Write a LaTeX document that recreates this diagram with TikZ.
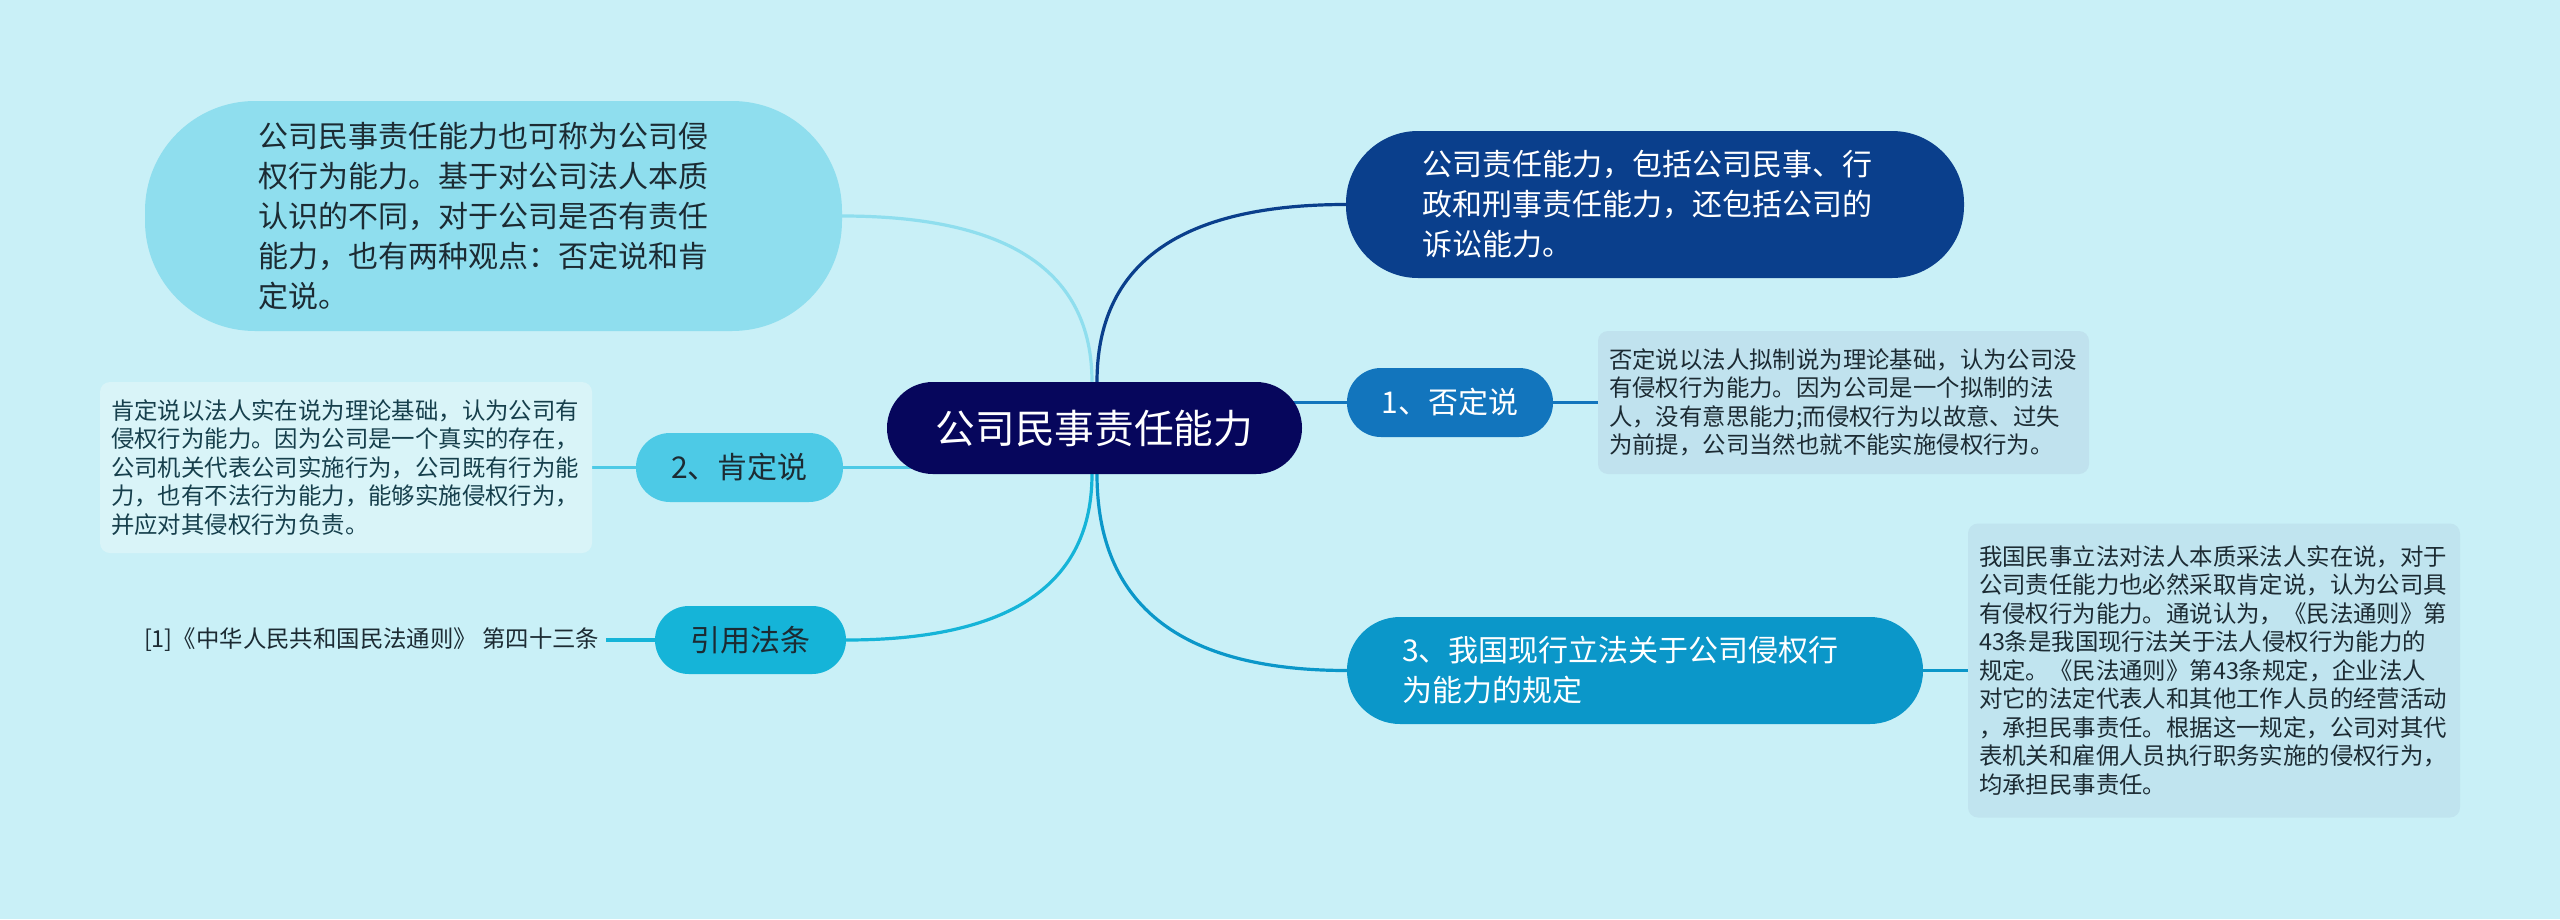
\documentclass[tikz,border=0pt]{standalone}
\usepackage{fontspec}
\newfontfamily\cjk{Noto Sans CJK SC}
\usetikzlibrary{calc}
\pgfdeclarelayer{bglayer}
\pgfdeclarelayer{linelayer}
\pgfsetlayers{bglayer,linelayer,main}
\definecolor{bgc}{HTML}{C9F0F7}
\definecolor{cnode}{HTML}{06065C}
\definecolor{tlc}{HTML}{8FDEEE}
\definecolor{trc}{HTML}{0A3F8C}
\definecolor{n1c}{HTML}{1275BD}
\definecolor{n3c}{HTML}{0B97C9}
\definecolor{n2c}{HTML}{4DCAE6}
\definecolor{n4c}{HTML}{15B4D8}
\definecolor{d1c}{HTML}{C0E2EE}
\definecolor{d3c}{HTML}{C0E4EF}
\definecolor{d2c}{HTML}{D9F4F8}
\definecolor{darktxt}{HTML}{1C2B33}
\definecolor{tealtxt}{HTML}{163F4C}
\begin{document}
\begin{tikzpicture}[x=1pt,y=-1pt,
  every node/.style={inner sep=0pt, outer sep=0pt},
  bigtxt/.style={font=\cjk\fontsize{30}{40}\selectfont},
  smalltxt/.style={font=\cjk\fontsize{23.4}{28.5}\selectfont},
  detailbox/.style={smalltxt, rounded corners=10pt, align=left},
  pillbox/.style={bigtxt, align=left},
  conn/.style={line width=3.2pt}
]
\begin{pgfonlayer}{bglayer}
\fill[bgc] (0,0) rectangle (2560,919);
\end{pgfonlayer}
\useasboundingbox (0,0) rectangle (2560,919);

% central node
\node[fill=cnode, text=white, minimum width=415pt, minimum height=92pt,
  rounded corners=45.9pt, font=\cjk\fontsize{39.7}{46}\selectfont] (c) at (1094.5,428) {公司民事责任能力};

% top-left bubble
\node[pillbox, fill=tlc, text=darktxt, minimum width=697pt, minimum height=230pt,
  text width=471pt, rounded corners=110pt] (tl) at (493.5,216)
  {公司民事责任能力也可称为公司侵\\权行为能力。基于对公司法人本质\\认识的不同，对于公司是否有责任\\能力，也有两种观点：否定说和肯\\定说。};

% top-right
\node[pillbox, fill=trc, text=white, minimum width=618pt, minimum height=147pt,
  text width=466pt, rounded corners=72pt] (tr) at (1655,204.5)
  {公司责任能力，包括公司民事、行\\政和刑事责任能力，还包括公司的\\诉讼能力。};

% 1
\node[bigtxt, fill=n1c, text=white, minimum width=206pt, minimum height=69pt,
  rounded corners=34pt] (n1) at (1450,402.5) {1、否定说};
\node[detailbox, fill=d1c, text=darktxt, minimum width=491pt, minimum height=143pt,
  text width=469pt] (d1) at (1843.5,402.5)
  {否定说以法人拟制说为理论基础，认为公司没\\有侵权行为能力。因为公司是一个拟制的法\\人，没有意思能力;而侵权行为以故意、过失\\为前提，公司当然也就不能实施侵权行为。};

% 3
\node[pillbox, fill=n3c, text=white, minimum width=576pt, minimum height=107pt,
  text width=466pt, rounded corners=53pt] (n3) at (1635,670.5)
  {3、我国现行立法关于公司侵权行\\为能力的规定};
\node[detailbox, fill=d3c, text=darktxt, minimum width=492pt, minimum height=294pt,
  text width=470pt] (d3) at (2214,670.5)
  {我国民事立法对法人本质采法人实在说，对于\\公司责任能力也必然采取肯定说，认为公司具\\有侵权行为能力。通说认为，《民法通则》第\\43条是我国现行法关于法人侵权行为能力的\\规定。《民法通则》第43条规定，企业法人\\对它的法定代表人和其他工作人员的经营活动\\，承担民事责任。根据这一规定，公司对其代\\表机关和雇佣人员执行职务实施的侵权行为，\\均承担民事责任。};

% 2
\node[bigtxt, fill=n2c, text=darktxt, minimum width=207pt, minimum height=69pt,
  rounded corners=34pt] (n2) at (739.5,467.5) {2、肯定说};
\node[detailbox, fill=d2c, text=tealtxt, minimum width=492pt, minimum height=171pt,
  text width=470pt] (d2) at (346,467.5)
  {肯定说以法人实在说为理论基础，认为公司有\\侵权行为能力。因为公司是一个真实的存在，\\公司机关代表公司实施行为，公司既有行为能\\力，也有不法行为能力，能够实施侵权行为，\\并应对其侵权行为负责。};

% 引用法条
\node[bigtxt, fill=n4c, text=darktxt, minimum width=191pt, minimum height=68pt,
  rounded corners=33.9pt] (n4) at (750.5,640) {引用法条};
\node[smalltxt, text=darktxt, anchor=west, inner xsep=7pt] (cite) at (137,640)
  {[1]《中华人民共和国民法通则》 第四十三条};

% connectors
\coordinate (sTL) at ($(c.north)+(-2.5,0)$);
\coordinate (sTR) at ($(c.north)+(2.5,0)$);
\coordinate (sBL) at ($(c.south)+(-2.5,0)$);
\coordinate (sBR) at ($(c.south)+(2.5,0)$);
\coordinate (kTL) at (sTL |- tl.east);
\coordinate (kTR) at (sTR |- tr.west);
\coordinate (kBL) at (sBL |- n4.east);
\coordinate (kBR) at (sBR |- n3.west);
\begin{pgfonlayer}{linelayer}
\draw[conn, tlc] (sTL) .. controls ($(sTL)!0.667!(kTL)$) and ($(tl.east)!0.667!(kTL)$) .. (tl.east);
\draw[conn, trc] (sTR) .. controls ($(sTR)!0.667!(kTR)$) and ($(tr.west)!0.667!(kTR)$) .. (tr.west);
\draw[conn, n4c] (sBL) .. controls ($(sBL)!0.667!(kBL)$) and ($(n4.east)!0.667!(kBL)$) .. (n4.east);
\draw[conn, n3c] (sBR) .. controls ($(sBR)!0.667!(kBR)$) and ($(n3.west)!0.667!(kBR)$) .. (n3.west);
\draw[conn, n1c] (c.center |- n1.west) -- (n1.west);
\draw[conn, n2c] (c.center |- n2.east) -- (n2.east);
\draw[conn, n1c] (n1.east) -- (d1.west);
\draw[conn, n3c] (n3.east) -- (d3.west);
\draw[conn, n2c] (n2.west) -- (d2.east);
\draw[conn, n4c] (n4.west) -- (cite.east);
\end{pgfonlayer}
\end{tikzpicture}
\end{document}
